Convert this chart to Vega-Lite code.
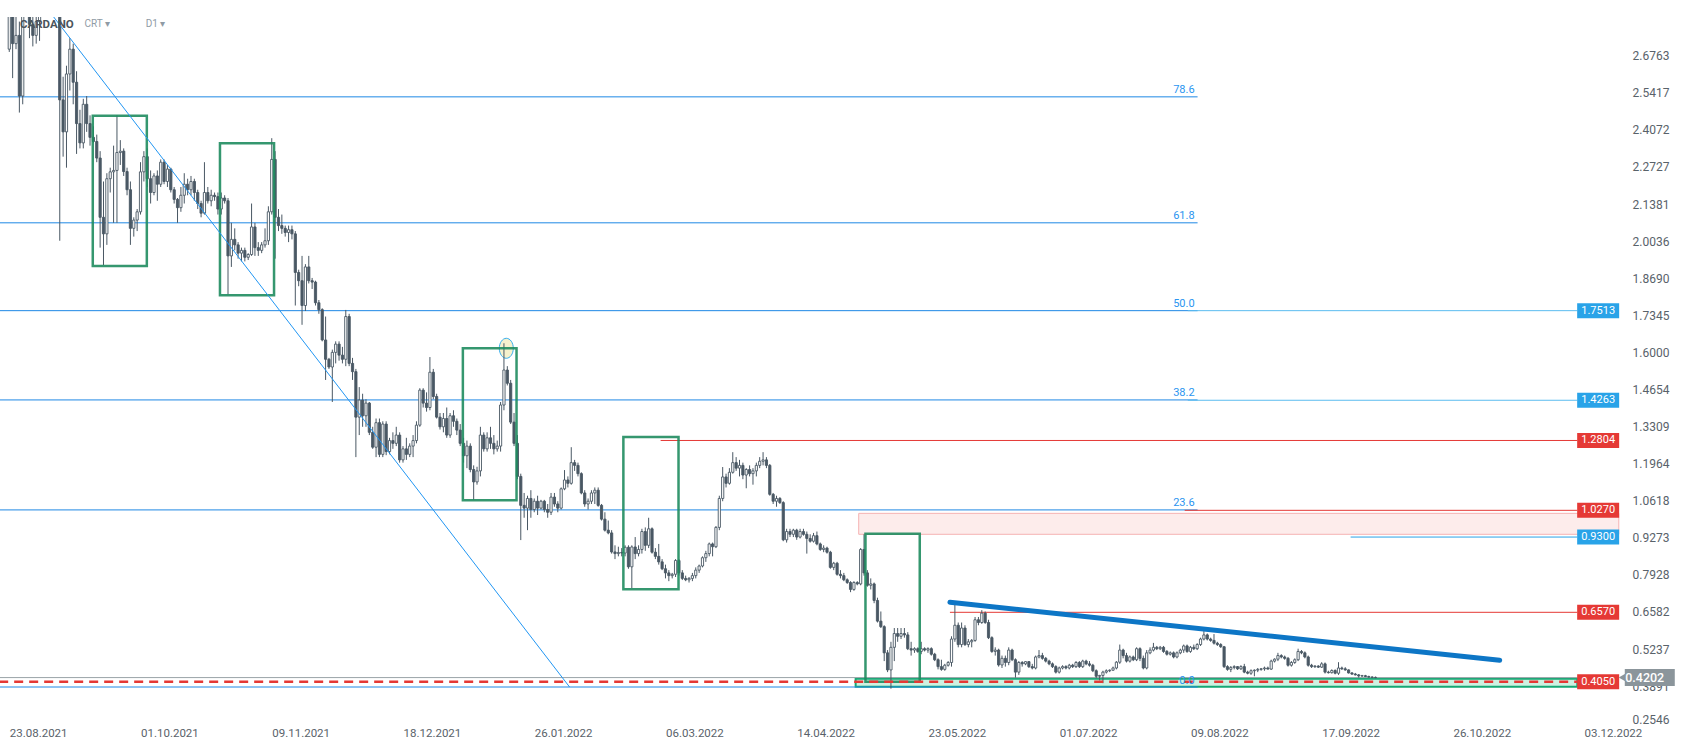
{
"$schema":"https://vega.github.io/schema/vega-lite/v6.json",
"width":1625,"height":707,
"autosize":{"type":"none"},
"padding":{"left":0,"top":17,"right":66,"bottom":25},
"background":"#ffffff",
"config":{"view":{"stroke":null},"font":"Roboto","axis":{"grid":false,"ticks":false,"domain":false,"labelOverlap":false}},
"title":{"text":"CARDANO","anchor":"start","frame":"group","orient":"top","offset":-22,"dx":20,"baseline":"alphabetic","font":"Roboto","fontSize":11.5,"fontWeight":"bold","color":"#4a545b"},
"datasets":{
"pink":[{"t":"2022-05-02T10:00:00Z","t2":"2022-12-14T07:00:00Z","v":0.940,"v2":1.016}],
"band":[{"t":"2022-05-01T12:15:00Z","t2":"2022-12-01T23:00:00Z","v":0.3872,"v2":0.4162}],
"hlines":[
{"t":"2021-08-20T00:00:00Z","t2":"2022-08-11T03:00:00Z","v":2.527,"kind":"fib"},
{"t":"2021-08-20T00:00:00Z","t2":"2022-08-11T03:00:00Z","v":2.070,"kind":"fib"},
{"t":"2021-08-20T00:00:00Z","t2":"2022-08-11T03:00:00Z","v":1.7513,"kind":"fib"},
{"t":"2021-08-20T00:00:00Z","t2":"2022-08-11T03:00:00Z","v":1.4275,"kind":"fib"},
{"t":"2021-08-20T00:00:00Z","t2":"2022-08-11T03:00:00Z","v":1.0285,"kind":"fib"},
{"t":"2021-08-20T00:00:00Z","t2":"2022-08-11T03:00:00Z","v":0.386,"kind":"fib"},
{"t":"2022-08-08T05:00:00Z","t2":"2022-12-01T23:00:00Z","v":1.7513,"kind":"ext"},
{"t":"2022-08-08T05:00:00Z","t2":"2022-12-01T23:00:00Z","v":1.4263,"kind":"ext"},
{"t":"2022-03-04T13:30:00Z","t2":"2022-12-01T23:00:00Z","v":1.2804,"kind":"red"},
{"t":"2022-08-07T07:00:00Z","t2":"2022-12-01T23:00:00Z","v":1.027,"kind":"red"},
{"t":"2022-05-29T12:45:00Z","t2":"2022-12-01T23:00:00Z","v":0.657,"kind":"red"},
{"t":"2022-09-25T14:24:00Z","t2":"2022-12-01T23:00:00Z","v":0.93,"kind":"blue"},
{"t":"2021-08-20T00:00:00Z","t2":"2022-12-01T23:00:00Z","v":0.4202,"kind":"price"}],
"support":[{"t":"2021-08-20T00:00:00Z","t2":"2022-12-01T23:00:00Z","v":0.405}],
"boxes":[
{"t":"2021-09-16T19:30:00Z","t2":"2021-10-02T21:00:00Z","v":1.9134,"v2":2.4586},
{"t":"2021-10-24T14:40:00Z","t2":"2021-11-09T16:20:00Z","v":1.8071,"v2":2.3585},
{"t":"2022-01-04T19:00:00Z","t2":"2022-01-20T17:45:00Z","v":1.0634,"v2":1.6148},
{"t":"2022-02-21T11:45:00Z","t2":"2022-03-09T21:00:00Z","v":0.7405,"v2":1.2931},
{"t":"2022-05-04T10:20:00Z","t2":"2022-05-20T13:30:00Z","v":0.4053,"v2":0.9422}],
"diag":[{"t":"2021-09-01T08:40:00Z","v":2.8776},{"t":"2022-02-05T12:00:00Z","v":0.386}],
"trend":[{"t":"2022-05-29T12:45:00Z","v":0.6934},{"t":"2022-11-08T21:30:00Z","v":0.483}],
"peak":[{"t":"2022-01-17T16:50:00Z","v":1.6148}],
"fiblabels":[
{"t":"2022-08-10T05:45:00Z","v":2.527,"label":"78.6"},
{"t":"2022-08-10T05:45:00Z","v":2.070,"label":"61.8"},
{"t":"2022-08-10T05:45:00Z","v":1.7513,"label":"50.0"},
{"t":"2022-08-10T05:45:00Z","v":1.4275,"label":"38.2"},
{"t":"2022-08-10T05:45:00Z","v":1.0285,"label":"23.6"},
{"t":"2022-08-10T05:45:00Z","v":0.386,"label":"0.0"}],
"badges":[
{"t":"2022-12-08T03:50:00Z","v":1.7513,"kind":"blue"},
{"t":"2022-12-08T03:50:00Z","v":1.4263,"kind":"blue"},
{"t":"2022-12-08T03:50:00Z","v":1.2804,"kind":"red"},
{"t":"2022-12-08T03:50:00Z","v":1.027,"kind":"red"},
{"t":"2022-12-08T03:50:00Z","v":0.93,"kind":"blue"},
{"t":"2022-12-08T03:50:00Z","v":0.657,"kind":"red"},
{"t":"2022-12-08T03:50:00Z","v":0.405,"kind":"red"}],
"pricebox":[{"t":"2022-12-23T12:00:00Z","v":0.4202}],
"pricetip":[{"t":"2022-12-15T12:00:00Z","v":0.4202}],
"pricetext":[{"t":"2022-12-22T00:00:00Z","v":0.4202}],
"candles":[
{"t":"2021-08-23","o":2.70,"h":2.95,"l":2.69,"c":2.88},
{"t":"2021-08-24","o":2.88,"h":2.93,"l":2.595,"c":2.72},
{"t":"2021-08-25","o":2.72,"h":2.86,"l":2.70,"c":2.75},
{"t":"2021-08-26","o":2.75,"h":2.80,"l":2.47,"c":2.53},
{"t":"2021-08-27","o":2.53,"h":2.86,"l":2.50,"c":2.84},
{"t":"2021-08-28","o":2.84,"h":2.92,"l":2.82,"c":2.87},
{"t":"2021-08-29","o":2.87,"h":2.91,"l":2.74,"c":2.79},
{"t":"2021-08-30","o":2.79,"h":2.84,"l":2.71,"c":2.75},
{"t":"2021-08-31","o":2.75,"h":2.87,"l":2.72,"c":2.80},
{"t":"2021-09-01","o":2.80,"h":2.96,"l":2.73,"c":2.93},
{"t":"2021-09-02","o":2.93,"h":3.10,"l":2.86,"c":2.97},
{"t":"2021-09-03","o":2.97,"h":3.02,"l":2.83,"c":2.87},
{"t":"2021-09-04","o":2.87,"h":2.93,"l":2.82,"c":2.86},
{"t":"2021-09-05","o":2.86,"h":2.97,"l":2.83,"c":2.90},
{"t":"2021-09-06","o":2.90,"h":2.93,"l":2.83,"c":2.86},
{"t":"2021-09-07","o":2.86,"h":2.87,"l":2.005,"c":2.516},
{"t":"2021-09-08","o":2.516,"h":2.60,"l":2.31,"c":2.40},
{"t":"2021-09-09","o":2.40,"h":2.64,"l":2.27,"c":2.61},
{"t":"2021-09-10","o":2.61,"h":2.74,"l":2.55,"c":2.70},
{"t":"2021-09-11","o":2.70,"h":2.72,"l":2.50,"c":2.58},
{"t":"2021-09-12","o":2.58,"h":2.62,"l":2.32,"c":2.43},
{"t":"2021-09-13","o":2.43,"h":2.48,"l":2.34,"c":2.36},
{"t":"2021-09-14","o":2.36,"h":2.52,"l":2.34,"c":2.50},
{"t":"2021-09-15","o":2.50,"h":2.53,"l":2.40,"c":2.43},
{"t":"2021-09-16","o":2.43,"h":2.46,"l":2.35,"c":2.38},
{"t":"2021-09-17","o":2.38,"h":2.42,"l":2.36,"c":2.365},
{"t":"2021-09-18","o":2.365,"h":2.39,"l":2.29,"c":2.305},
{"t":"2021-09-19","o":2.305,"h":2.33,"l":1.98,"c":2.09},
{"t":"2021-09-20","o":2.09,"h":2.22,"l":1.917,"c":2.03},
{"t":"2021-09-21","o":2.03,"h":2.25,"l":1.99,"c":2.23},
{"t":"2021-09-22","o":2.23,"h":2.27,"l":2.18,"c":2.255},
{"t":"2021-09-23","o":2.255,"h":2.35,"l":2.07,"c":2.26},
{"t":"2021-09-24","o":2.26,"h":2.46,"l":2.07,"c":2.325},
{"t":"2021-09-25","o":2.325,"h":2.37,"l":2.28,"c":2.33},
{"t":"2021-09-26","o":2.33,"h":2.34,"l":2.24,"c":2.256},
{"t":"2021-09-27","o":2.256,"h":2.27,"l":2.17,"c":2.19},
{"t":"2021-09-28","o":2.19,"h":2.22,"l":1.99,"c":2.05},
{"t":"2021-09-29","o":2.05,"h":2.09,"l":2.02,"c":2.08},
{"t":"2021-09-30","o":2.08,"h":2.12,"l":2.04,"c":2.11},
{"t":"2021-10-01","o":2.11,"h":2.29,"l":2.10,"c":2.255},
{"t":"2021-10-02","o":2.255,"h":2.33,"l":2.22,"c":2.31},
{"t":"2021-10-03","o":2.31,"h":2.34,"l":2.20,"c":2.23},
{"t":"2021-10-04","o":2.23,"h":2.26,"l":2.14,"c":2.18},
{"t":"2021-10-05","o":2.18,"h":2.25,"l":2.17,"c":2.24},
{"t":"2021-10-06","o":2.24,"h":2.26,"l":2.15,"c":2.21},
{"t":"2021-10-07","o":2.21,"h":2.30,"l":2.20,"c":2.29},
{"t":"2021-10-08","o":2.29,"h":2.30,"l":2.21,"c":2.22},
{"t":"2021-10-09","o":2.22,"h":2.28,"l":2.20,"c":2.265},
{"t":"2021-10-10","o":2.265,"h":2.27,"l":2.18,"c":2.19},
{"t":"2021-10-11","o":2.19,"h":2.20,"l":2.14,"c":2.155},
{"t":"2021-10-12","o":2.155,"h":2.16,"l":2.07,"c":2.125},
{"t":"2021-10-13","o":2.125,"h":2.20,"l":2.11,"c":2.17},
{"t":"2021-10-14","o":2.17,"h":2.25,"l":2.14,"c":2.21},
{"t":"2021-10-15","o":2.21,"h":2.23,"l":2.17,"c":2.19},
{"t":"2021-10-16","o":2.19,"h":2.24,"l":2.17,"c":2.22},
{"t":"2021-10-17","o":2.22,"h":2.23,"l":2.15,"c":2.18},
{"t":"2021-10-18","o":2.18,"h":2.19,"l":2.12,"c":2.14},
{"t":"2021-10-19","o":2.14,"h":2.15,"l":2.09,"c":2.105},
{"t":"2021-10-20","o":2.105,"h":2.29,"l":2.10,"c":2.18},
{"t":"2021-10-21","o":2.18,"h":2.20,"l":2.14,"c":2.15},
{"t":"2021-10-22","o":2.15,"h":2.19,"l":2.13,"c":2.17},
{"t":"2021-10-23","o":2.17,"h":2.18,"l":2.15,"c":2.165},
{"t":"2021-10-24","o":2.165,"h":2.18,"l":2.10,"c":2.12},
{"t":"2021-10-25","o":2.12,"h":2.18,"l":2.10,"c":2.16},
{"t":"2021-10-26","o":2.16,"h":2.17,"l":2.14,"c":2.15},
{"t":"2021-10-27","o":2.15,"h":2.16,"l":1.81,"c":1.95},
{"t":"2021-10-28","o":1.95,"h":2.07,"l":1.91,"c":2.01},
{"t":"2021-10-29","o":2.01,"h":2.05,"l":1.97,"c":1.99},
{"t":"2021-10-30","o":1.99,"h":2.00,"l":1.94,"c":1.96},
{"t":"2021-10-31","o":1.96,"h":1.98,"l":1.93,"c":1.97},
{"t":"2021-11-01","o":1.97,"h":1.98,"l":1.93,"c":1.945},
{"t":"2021-11-02","o":1.945,"h":1.96,"l":1.935,"c":1.955},
{"t":"2021-11-03","o":1.955,"h":2.14,"l":1.95,"c":2.055},
{"t":"2021-11-04","o":2.055,"h":2.07,"l":1.95,"c":1.98},
{"t":"2021-11-05","o":1.98,"h":2.00,"l":1.95,"c":1.97},
{"t":"2021-11-06","o":1.97,"h":2.00,"l":1.96,"c":1.99},
{"t":"2021-11-07","o":1.99,"h":2.05,"l":1.98,"c":2.005},
{"t":"2021-11-08","o":2.005,"h":2.13,"l":1.99,"c":2.11},
{"t":"2021-11-09","o":2.11,"h":2.377,"l":2.10,"c":2.30},
{"t":"2021-11-10","o":2.30,"h":2.33,"l":1.94,"c":2.09},
{"t":"2021-11-11","o":2.09,"h":2.12,"l":2.04,"c":2.06},
{"t":"2021-11-12","o":2.06,"h":2.10,"l":2.03,"c":2.05},
{"t":"2021-11-13","o":2.05,"h":2.06,"l":2.02,"c":2.035},
{"t":"2021-11-14","o":2.035,"h":2.06,"l":2.00,"c":2.045},
{"t":"2021-11-15","o":2.045,"h":2.06,"l":2.01,"c":2.03},
{"t":"2021-11-16","o":2.03,"h":2.04,"l":1.77,"c":1.89},
{"t":"2021-11-17","o":1.89,"h":1.90,"l":1.84,"c":1.86},
{"t":"2021-11-18","o":1.86,"h":1.95,"l":1.70,"c":1.77},
{"t":"2021-11-19","o":1.77,"h":1.92,"l":1.75,"c":1.91},
{"t":"2021-11-20","o":1.91,"h":1.95,"l":1.85,"c":1.86},
{"t":"2021-11-21","o":1.86,"h":1.87,"l":1.83,"c":1.855},
{"t":"2021-11-22","o":1.855,"h":1.86,"l":1.77,"c":1.78},
{"t":"2021-11-23","o":1.78,"h":1.79,"l":1.74,"c":1.755},
{"t":"2021-11-24","o":1.755,"h":1.76,"l":1.64,"c":1.645},
{"t":"2021-11-25","o":1.645,"h":1.73,"l":1.50,"c":1.575},
{"t":"2021-11-26","o":1.575,"h":1.58,"l":1.54,"c":1.547},
{"t":"2021-11-27","o":1.547,"h":1.61,"l":1.42,"c":1.60},
{"t":"2021-11-28","o":1.60,"h":1.64,"l":1.56,"c":1.63},
{"t":"2021-11-29","o":1.63,"h":1.64,"l":1.57,"c":1.59},
{"t":"2021-11-30","o":1.59,"h":1.62,"l":1.56,"c":1.575},
{"t":"2021-12-01","o":1.575,"h":1.754,"l":1.55,"c":1.73},
{"t":"2021-12-02","o":1.73,"h":1.74,"l":1.55,"c":1.56},
{"t":"2021-12-03","o":1.56,"h":1.58,"l":1.50,"c":1.53},
{"t":"2021-12-04","o":1.53,"h":1.54,"l":1.22,"c":1.365},
{"t":"2021-12-05","o":1.365,"h":1.474,"l":1.30,"c":1.427},
{"t":"2021-12-06","o":1.427,"h":1.45,"l":1.33,"c":1.37},
{"t":"2021-12-07","o":1.37,"h":1.43,"l":1.33,"c":1.416},
{"t":"2021-12-08","o":1.416,"h":1.42,"l":1.30,"c":1.31},
{"t":"2021-12-09","o":1.31,"h":1.33,"l":1.25,"c":1.256},
{"t":"2021-12-10","o":1.256,"h":1.36,"l":1.22,"c":1.345},
{"t":"2021-12-11","o":1.345,"h":1.36,"l":1.22,"c":1.23},
{"t":"2021-12-12","o":1.23,"h":1.35,"l":1.22,"c":1.34},
{"t":"2021-12-13","o":1.34,"h":1.35,"l":1.227,"c":1.24},
{"t":"2021-12-14","o":1.24,"h":1.29,"l":1.23,"c":1.28},
{"t":"2021-12-15","o":1.28,"h":1.31,"l":1.25,"c":1.27},
{"t":"2021-12-16","o":1.27,"h":1.33,"l":1.26,"c":1.30},
{"t":"2021-12-17","o":1.30,"h":1.31,"l":1.20,"c":1.21},
{"t":"2021-12-18","o":1.21,"h":1.26,"l":1.20,"c":1.25},
{"t":"2021-12-19","o":1.25,"h":1.29,"l":1.21,"c":1.23},
{"t":"2021-12-20","o":1.23,"h":1.27,"l":1.22,"c":1.26},
{"t":"2021-12-21","o":1.26,"h":1.30,"l":1.22,"c":1.28},
{"t":"2021-12-22","o":1.28,"h":1.35,"l":1.27,"c":1.336},
{"t":"2021-12-23","o":1.336,"h":1.47,"l":1.33,"c":1.463},
{"t":"2021-12-24","o":1.463,"h":1.47,"l":1.40,"c":1.416},
{"t":"2021-12-25","o":1.416,"h":1.455,"l":1.385,"c":1.40},
{"t":"2021-12-26","o":1.40,"h":1.583,"l":1.39,"c":1.528},
{"t":"2021-12-27","o":1.528,"h":1.54,"l":1.43,"c":1.44},
{"t":"2021-12-28","o":1.44,"h":1.45,"l":1.36,"c":1.365},
{"t":"2021-12-29","o":1.365,"h":1.38,"l":1.32,"c":1.33},
{"t":"2021-12-30","o":1.33,"h":1.38,"l":1.31,"c":1.36},
{"t":"2021-12-31","o":1.36,"h":1.40,"l":1.29,"c":1.30},
{"t":"2022-01-01","o":1.30,"h":1.38,"l":1.29,"c":1.37},
{"t":"2022-01-02","o":1.37,"h":1.39,"l":1.33,"c":1.35},
{"t":"2022-01-03","o":1.35,"h":1.36,"l":1.30,"c":1.318},
{"t":"2022-01-04","o":1.318,"h":1.34,"l":1.26,"c":1.27},
{"t":"2022-01-05","o":1.27,"h":1.29,"l":1.20,"c":1.225},
{"t":"2022-01-06","o":1.225,"h":1.28,"l":1.18,"c":1.26},
{"t":"2022-01-07","o":1.26,"h":1.27,"l":1.165,"c":1.175},
{"t":"2022-01-08","o":1.175,"h":1.19,"l":1.065,"c":1.13},
{"t":"2022-01-09","o":1.13,"h":1.185,"l":1.12,"c":1.17},
{"t":"2022-01-10","o":1.17,"h":1.33,"l":1.15,"c":1.30},
{"t":"2022-01-11","o":1.30,"h":1.31,"l":1.24,"c":1.25},
{"t":"2022-01-12","o":1.25,"h":1.31,"l":1.24,"c":1.29},
{"t":"2022-01-13","o":1.29,"h":1.33,"l":1.25,"c":1.27},
{"t":"2022-01-14","o":1.27,"h":1.30,"l":1.23,"c":1.25},
{"t":"2022-01-15","o":1.25,"h":1.28,"l":1.24,"c":1.26},
{"t":"2022-01-16","o":1.26,"h":1.42,"l":1.24,"c":1.409},
{"t":"2022-01-17","o":1.409,"h":1.633,"l":1.39,"c":1.536},
{"t":"2022-01-18","o":1.536,"h":1.55,"l":1.48,"c":1.488},
{"t":"2022-01-19","o":1.488,"h":1.50,"l":1.34,"c":1.347},
{"t":"2022-01-20","o":1.347,"h":1.38,"l":1.26,"c":1.27},
{"t":"2022-01-21","o":1.27,"h":1.30,"l":1.14,"c":1.15},
{"t":"2022-01-22","o":1.15,"h":1.16,"l":0.919,"c":1.045},
{"t":"2022-01-23","o":1.045,"h":1.09,"l":1.00,"c":1.035},
{"t":"2022-01-24","o":1.035,"h":1.08,"l":0.955,"c":1.07},
{"t":"2022-01-25","o":1.07,"h":1.10,"l":1.00,"c":1.03},
{"t":"2022-01-26","o":1.03,"h":1.07,"l":1.02,"c":1.06},
{"t":"2022-01-27","o":1.06,"h":1.08,"l":1.01,"c":1.035},
{"t":"2022-01-28","o":1.035,"h":1.065,"l":1.03,"c":1.06},
{"t":"2022-01-29","o":1.06,"h":1.065,"l":1.02,"c":1.03},
{"t":"2022-01-30","o":1.03,"h":1.05,"l":1.00,"c":1.02},
{"t":"2022-01-31","o":1.02,"h":1.09,"l":1.01,"c":1.075},
{"t":"2022-02-01","o":1.075,"h":1.09,"l":1.04,"c":1.05},
{"t":"2022-02-02","o":1.05,"h":1.06,"l":1.02,"c":1.035},
{"t":"2022-02-03","o":1.035,"h":1.11,"l":1.03,"c":1.105},
{"t":"2022-02-04","o":1.105,"h":1.173,"l":1.10,"c":1.137},
{"t":"2022-02-05","o":1.137,"h":1.15,"l":1.11,"c":1.125},
{"t":"2022-02-06","o":1.125,"h":1.256,"l":1.12,"c":1.20},
{"t":"2022-02-07","o":1.20,"h":1.21,"l":1.17,"c":1.19},
{"t":"2022-02-08","o":1.19,"h":1.20,"l":1.15,"c":1.16},
{"t":"2022-02-09","o":1.16,"h":1.165,"l":1.085,"c":1.09},
{"t":"2022-02-10","o":1.09,"h":1.10,"l":1.04,"c":1.05},
{"t":"2022-02-11","o":1.05,"h":1.07,"l":1.03,"c":1.06},
{"t":"2022-02-12","o":1.06,"h":1.10,"l":1.05,"c":1.09},
{"t":"2022-02-13","o":1.09,"h":1.11,"l":1.05,"c":1.10},
{"t":"2022-02-14","o":1.10,"h":1.11,"l":1.04,"c":1.045},
{"t":"2022-02-15","o":1.045,"h":1.05,"l":0.99,"c":0.995},
{"t":"2022-02-16","o":0.995,"h":1.02,"l":0.95,"c":0.955},
{"t":"2022-02-17","o":0.955,"h":0.99,"l":0.94,"c":0.945},
{"t":"2022-02-18","o":0.945,"h":0.955,"l":0.87,"c":0.876},
{"t":"2022-02-19","o":0.876,"h":0.90,"l":0.85,"c":0.87},
{"t":"2022-02-20","o":0.87,"h":0.895,"l":0.86,"c":0.874},
{"t":"2022-02-21","o":0.874,"h":0.89,"l":0.86,"c":0.872},
{"t":"2022-02-22","o":0.872,"h":0.90,"l":0.86,"c":0.893},
{"t":"2022-02-23","o":0.893,"h":0.90,"l":0.815,"c":0.822},
{"t":"2022-02-24","o":0.822,"h":0.90,"l":0.745,"c":0.894},
{"t":"2022-02-25","o":0.894,"h":0.93,"l":0.85,"c":0.87},
{"t":"2022-02-26","o":0.87,"h":0.90,"l":0.86,"c":0.885},
{"t":"2022-02-27","o":0.885,"h":0.96,"l":0.87,"c":0.95},
{"t":"2022-02-28","o":0.95,"h":0.965,"l":0.88,"c":0.90},
{"t":"2022-03-01","o":0.90,"h":1.00,"l":0.89,"c":0.96},
{"t":"2022-03-02","o":0.96,"h":0.965,"l":0.87,"c":0.875},
{"t":"2022-03-03","o":0.875,"h":0.89,"l":0.85,"c":0.86},
{"t":"2022-03-04","o":0.86,"h":0.905,"l":0.83,"c":0.84},
{"t":"2022-03-05","o":0.84,"h":0.85,"l":0.81,"c":0.815},
{"t":"2022-03-06","o":0.815,"h":0.83,"l":0.78,"c":0.80},
{"t":"2022-03-07","o":0.80,"h":0.81,"l":0.77,"c":0.79},
{"t":"2022-03-08","o":0.79,"h":0.80,"l":0.78,"c":0.795},
{"t":"2022-03-09","o":0.795,"h":0.85,"l":0.785,"c":0.845},
{"t":"2022-03-10","o":0.845,"h":0.85,"l":0.79,"c":0.80},
{"t":"2022-03-11","o":0.80,"h":0.81,"l":0.774,"c":0.78},
{"t":"2022-03-12","o":0.78,"h":0.79,"l":0.77,"c":0.775},
{"t":"2022-03-13","o":0.775,"h":0.785,"l":0.765,"c":0.78},
{"t":"2022-03-14","o":0.78,"h":0.80,"l":0.77,"c":0.79},
{"t":"2022-03-15","o":0.79,"h":0.82,"l":0.78,"c":0.81},
{"t":"2022-03-16","o":0.81,"h":0.83,"l":0.80,"c":0.825},
{"t":"2022-03-17","o":0.825,"h":0.86,"l":0.82,"c":0.855},
{"t":"2022-03-18","o":0.855,"h":0.88,"l":0.84,"c":0.87},
{"t":"2022-03-19","o":0.87,"h":0.91,"l":0.86,"c":0.905},
{"t":"2022-03-20","o":0.905,"h":0.91,"l":0.86,"c":0.895},
{"t":"2022-03-21","o":0.895,"h":0.97,"l":0.89,"c":0.965},
{"t":"2022-03-22","o":0.965,"h":1.08,"l":0.955,"c":1.07},
{"t":"2022-03-23","o":1.07,"h":1.184,"l":1.06,"c":1.148},
{"t":"2022-03-24","o":1.148,"h":1.16,"l":1.11,"c":1.125},
{"t":"2022-03-25","o":1.125,"h":1.18,"l":1.12,"c":1.165},
{"t":"2022-03-26","o":1.165,"h":1.238,"l":1.16,"c":1.20},
{"t":"2022-03-27","o":1.20,"h":1.22,"l":1.17,"c":1.18},
{"t":"2022-03-28","o":1.18,"h":1.21,"l":1.15,"c":1.19},
{"t":"2022-03-29","o":1.19,"h":1.20,"l":1.14,"c":1.155},
{"t":"2022-03-30","o":1.155,"h":1.18,"l":1.107,"c":1.175},
{"t":"2022-03-31","o":1.175,"h":1.19,"l":1.15,"c":1.16},
{"t":"2022-04-01","o":1.16,"h":1.18,"l":1.12,"c":1.17},
{"t":"2022-04-02","o":1.17,"h":1.20,"l":1.15,"c":1.19},
{"t":"2022-04-03","o":1.19,"h":1.22,"l":1.18,"c":1.205},
{"t":"2022-04-04","o":1.205,"h":1.238,"l":1.19,"c":1.21},
{"t":"2022-04-05","o":1.21,"h":1.22,"l":1.18,"c":1.19},
{"t":"2022-04-06","o":1.19,"h":1.195,"l":1.08,"c":1.085},
{"t":"2022-04-07","o":1.085,"h":1.09,"l":1.05,"c":1.06},
{"t":"2022-04-08","o":1.06,"h":1.08,"l":1.04,"c":1.07},
{"t":"2022-04-09","o":1.07,"h":1.075,"l":1.05,"c":1.055},
{"t":"2022-04-10","o":1.055,"h":1.06,"l":0.915,"c":0.92},
{"t":"2022-04-11","o":0.92,"h":0.96,"l":0.91,"c":0.95},
{"t":"2022-04-12","o":0.95,"h":0.96,"l":0.93,"c":0.94},
{"t":"2022-04-13","o":0.94,"h":0.96,"l":0.93,"c":0.955},
{"t":"2022-04-14","o":0.955,"h":0.96,"l":0.92,"c":0.93},
{"t":"2022-04-15","o":0.93,"h":0.96,"l":0.925,"c":0.95},
{"t":"2022-04-16","o":0.95,"h":0.96,"l":0.935,"c":0.94},
{"t":"2022-04-17","o":0.94,"h":0.95,"l":0.87,"c":0.925},
{"t":"2022-04-18","o":0.925,"h":0.94,"l":0.91,"c":0.915},
{"t":"2022-04-19","o":0.915,"h":0.945,"l":0.91,"c":0.935},
{"t":"2022-04-20","o":0.935,"h":0.95,"l":0.90,"c":0.905},
{"t":"2022-04-21","o":0.905,"h":0.91,"l":0.88,"c":0.885},
{"t":"2022-04-22","o":0.885,"h":0.90,"l":0.875,"c":0.89},
{"t":"2022-04-23","o":0.89,"h":0.895,"l":0.87,"c":0.875},
{"t":"2022-04-24","o":0.875,"h":0.88,"l":0.815,"c":0.82},
{"t":"2022-04-25","o":0.82,"h":0.84,"l":0.81,"c":0.835},
{"t":"2022-04-26","o":0.835,"h":0.84,"l":0.79,"c":0.795},
{"t":"2022-04-27","o":0.795,"h":0.81,"l":0.78,"c":0.79},
{"t":"2022-04-28","o":0.79,"h":0.80,"l":0.77,"c":0.775},
{"t":"2022-04-29","o":0.775,"h":0.78,"l":0.76,"c":0.765},
{"t":"2022-04-30","o":0.765,"h":0.77,"l":0.73,"c":0.74},
{"t":"2022-05-01","o":0.74,"h":0.77,"l":0.735,"c":0.765},
{"t":"2022-05-02","o":0.765,"h":0.77,"l":0.755,"c":0.76},
{"t":"2022-05-03","o":0.76,"h":0.89,"l":0.755,"c":0.885},
{"t":"2022-05-04","o":0.885,"h":0.94,"l":0.79,"c":0.80},
{"t":"2022-05-05","o":0.80,"h":0.81,"l":0.75,"c":0.755},
{"t":"2022-05-06","o":0.755,"h":0.78,"l":0.74,"c":0.76},
{"t":"2022-05-07","o":0.76,"h":0.765,"l":0.69,"c":0.70},
{"t":"2022-05-08","o":0.70,"h":0.71,"l":0.62,"c":0.625},
{"t":"2022-05-09","o":0.625,"h":0.66,"l":0.60,"c":0.605},
{"t":"2022-05-10","o":0.605,"h":0.61,"l":0.48,"c":0.51},
{"t":"2022-05-11","o":0.51,"h":0.52,"l":0.44,"c":0.448},
{"t":"2022-05-12","o":0.448,"h":0.55,"l":0.38,"c":0.53},
{"t":"2022-05-13","o":0.53,"h":0.60,"l":0.48,"c":0.58},
{"t":"2022-05-14","o":0.58,"h":0.60,"l":0.55,"c":0.57},
{"t":"2022-05-15","o":0.57,"h":0.60,"l":0.56,"c":0.58},
{"t":"2022-05-16","o":0.58,"h":0.60,"l":0.565,"c":0.575},
{"t":"2022-05-17","o":0.575,"h":0.585,"l":0.52,"c":0.525},
{"t":"2022-05-18","o":0.525,"h":0.55,"l":0.50,"c":0.52},
{"t":"2022-05-19","o":0.52,"h":0.53,"l":0.51,"c":0.525},
{"t":"2022-05-20","o":0.525,"h":0.53,"l":0.51,"c":0.515},
{"t":"2022-05-21","o":0.515,"h":0.55,"l":0.505,"c":0.525},
{"t":"2022-05-22","o":0.525,"h":0.53,"l":0.515,"c":0.52},
{"t":"2022-05-23","o":0.52,"h":0.53,"l":0.51,"c":0.525},
{"t":"2022-05-24","o":0.525,"h":0.53,"l":0.50,"c":0.505},
{"t":"2022-05-25","o":0.505,"h":0.51,"l":0.48,"c":0.485},
{"t":"2022-05-26","o":0.485,"h":0.49,"l":0.45,"c":0.46},
{"t":"2022-05-27","o":0.46,"h":0.485,"l":0.445,"c":0.45},
{"t":"2022-05-28","o":0.45,"h":0.47,"l":0.445,"c":0.465},
{"t":"2022-05-29","o":0.465,"h":0.48,"l":0.46,"c":0.475},
{"t":"2022-05-30","o":0.475,"h":0.57,"l":0.46,"c":0.56},
{"t":"2022-05-31","o":0.56,"h":0.687,"l":0.55,"c":0.61},
{"t":"2022-06-01","o":0.61,"h":0.62,"l":0.53,"c":0.54},
{"t":"2022-06-02","o":0.54,"h":0.62,"l":0.53,"c":0.60},
{"t":"2022-06-03","o":0.60,"h":0.61,"l":0.535,"c":0.54},
{"t":"2022-06-04","o":0.54,"h":0.56,"l":0.53,"c":0.55},
{"t":"2022-06-05","o":0.55,"h":0.56,"l":0.53,"c":0.555},
{"t":"2022-06-06","o":0.555,"h":0.64,"l":0.55,"c":0.63},
{"t":"2022-06-07","o":0.63,"h":0.64,"l":0.61,"c":0.62},
{"t":"2022-06-08","o":0.62,"h":0.665,"l":0.615,"c":0.654},
{"t":"2022-06-09","o":0.654,"h":0.66,"l":0.615,"c":0.62},
{"t":"2022-06-10","o":0.62,"h":0.63,"l":0.56,"c":0.565},
{"t":"2022-06-11","o":0.565,"h":0.57,"l":0.51,"c":0.515},
{"t":"2022-06-12","o":0.515,"h":0.53,"l":0.50,"c":0.52},
{"t":"2022-06-13","o":0.52,"h":0.525,"l":0.46,"c":0.466},
{"t":"2022-06-14","o":0.466,"h":0.50,"l":0.455,"c":0.49},
{"t":"2022-06-15","o":0.49,"h":0.50,"l":0.46,"c":0.475},
{"t":"2022-06-16","o":0.475,"h":0.53,"l":0.465,"c":0.52},
{"t":"2022-06-17","o":0.52,"h":0.525,"l":0.48,"c":0.485},
{"t":"2022-06-18","o":0.485,"h":0.49,"l":0.42,"c":0.44},
{"t":"2022-06-19","o":0.44,"h":0.48,"l":0.43,"c":0.475},
{"t":"2022-06-20","o":0.475,"h":0.48,"l":0.46,"c":0.47},
{"t":"2022-06-21","o":0.47,"h":0.48,"l":0.465,"c":0.478},
{"t":"2022-06-22","o":0.478,"h":0.48,"l":0.455,"c":0.46},
{"t":"2022-06-23","o":0.46,"h":0.47,"l":0.45,"c":0.455},
{"t":"2022-06-24","o":0.455,"h":0.50,"l":0.45,"c":0.495},
{"t":"2022-06-25","o":0.495,"h":0.52,"l":0.49,"c":0.50},
{"t":"2022-06-26","o":0.50,"h":0.51,"l":0.485,"c":0.49},
{"t":"2022-06-27","o":0.49,"h":0.495,"l":0.475,"c":0.48},
{"t":"2022-06-28","o":0.48,"h":0.485,"l":0.465,"c":0.47},
{"t":"2022-06-29","o":0.47,"h":0.475,"l":0.455,"c":0.46},
{"t":"2022-06-30","o":0.46,"h":0.465,"l":0.435,"c":0.44},
{"t":"2022-07-01","o":0.44,"h":0.46,"l":0.435,"c":0.455},
{"t":"2022-07-02","o":0.455,"h":0.465,"l":0.45,"c":0.46},
{"t":"2022-07-03","o":0.46,"h":0.465,"l":0.45,"c":0.455},
{"t":"2022-07-04","o":0.455,"h":0.47,"l":0.45,"c":0.465},
{"t":"2022-07-05","o":0.465,"h":0.47,"l":0.455,"c":0.46},
{"t":"2022-07-06","o":0.46,"h":0.48,"l":0.455,"c":0.475},
{"t":"2022-07-07","o":0.475,"h":0.48,"l":0.455,"c":0.46},
{"t":"2022-07-08","o":0.46,"h":0.485,"l":0.455,"c":0.48},
{"t":"2022-07-09","o":0.48,"h":0.485,"l":0.465,"c":0.47},
{"t":"2022-07-10","o":0.47,"h":0.48,"l":0.46,"c":0.465},
{"t":"2022-07-11","o":0.465,"h":0.47,"l":0.44,"c":0.445},
{"t":"2022-07-12","o":0.445,"h":0.45,"l":0.418,"c":0.425},
{"t":"2022-07-13","o":0.425,"h":0.43,"l":0.41,"c":0.428},
{"t":"2022-07-14","o":0.428,"h":0.445,"l":0.40,"c":0.44},
{"t":"2022-07-15","o":0.44,"h":0.45,"l":0.435,"c":0.445},
{"t":"2022-07-16","o":0.445,"h":0.45,"l":0.44,"c":0.447},
{"t":"2022-07-17","o":0.447,"h":0.46,"l":0.445,"c":0.455},
{"t":"2022-07-18","o":0.455,"h":0.48,"l":0.45,"c":0.476},
{"t":"2022-07-19","o":0.476,"h":0.54,"l":0.47,"c":0.52},
{"t":"2022-07-20","o":0.52,"h":0.525,"l":0.49,"c":0.50},
{"t":"2022-07-21","o":0.50,"h":0.51,"l":0.475,"c":0.48},
{"t":"2022-07-22","o":0.48,"h":0.50,"l":0.475,"c":0.495},
{"t":"2022-07-23","o":0.495,"h":0.50,"l":0.48,"c":0.485},
{"t":"2022-07-24","o":0.485,"h":0.53,"l":0.48,"c":0.525},
{"t":"2022-07-25","o":0.525,"h":0.53,"l":0.48,"c":0.49},
{"t":"2022-07-26","o":0.49,"h":0.50,"l":0.45,"c":0.455},
{"t":"2022-07-27","o":0.455,"h":0.52,"l":0.45,"c":0.51},
{"t":"2022-07-28","o":0.51,"h":0.53,"l":0.505,"c":0.52},
{"t":"2022-07-29","o":0.52,"h":0.546,"l":0.515,"c":0.53},
{"t":"2022-07-30","o":0.53,"h":0.535,"l":0.52,"c":0.525},
{"t":"2022-07-31","o":0.525,"h":0.535,"l":0.52,"c":0.53},
{"t":"2022-08-01","o":0.53,"h":0.535,"l":0.51,"c":0.515},
{"t":"2022-08-02","o":0.515,"h":0.52,"l":0.50,"c":0.505},
{"t":"2022-08-03","o":0.505,"h":0.515,"l":0.50,"c":0.51},
{"t":"2022-08-04","o":0.51,"h":0.515,"l":0.49,"c":0.495},
{"t":"2022-08-05","o":0.495,"h":0.515,"l":0.49,"c":0.51},
{"t":"2022-08-06","o":0.51,"h":0.525,"l":0.505,"c":0.52},
{"t":"2022-08-07","o":0.52,"h":0.54,"l":0.51,"c":0.535},
{"t":"2022-08-08","o":0.535,"h":0.54,"l":0.51,"c":0.515},
{"t":"2022-08-09","o":0.515,"h":0.535,"l":0.51,"c":0.53},
{"t":"2022-08-10","o":0.53,"h":0.54,"l":0.52,"c":0.525},
{"t":"2022-08-11","o":0.525,"h":0.545,"l":0.52,"c":0.54},
{"t":"2022-08-12","o":0.54,"h":0.565,"l":0.535,"c":0.56},
{"t":"2022-08-13","o":0.56,"h":0.589,"l":0.555,"c":0.575},
{"t":"2022-08-14","o":0.575,"h":0.58,"l":0.555,"c":0.56},
{"t":"2022-08-15","o":0.56,"h":0.565,"l":0.55,"c":0.555},
{"t":"2022-08-16","o":0.555,"h":0.578,"l":0.54,"c":0.545},
{"t":"2022-08-17","o":0.545,"h":0.55,"l":0.535,"c":0.54},
{"t":"2022-08-18","o":0.54,"h":0.545,"l":0.528,"c":0.532},
{"t":"2022-08-19","o":0.532,"h":0.535,"l":0.455,"c":0.46},
{"t":"2022-08-20","o":0.46,"h":0.465,"l":0.445,"c":0.45},
{"t":"2022-08-21","o":0.45,"h":0.462,"l":0.44,"c":0.457},
{"t":"2022-08-22","o":0.457,"h":0.465,"l":0.45,"c":0.46},
{"t":"2022-08-23","o":0.46,"h":0.462,"l":0.448,"c":0.452},
{"t":"2022-08-24","o":0.452,"h":0.465,"l":0.448,"c":0.46},
{"t":"2022-08-25","o":0.46,"h":0.47,"l":0.436,"c":0.44},
{"t":"2022-08-26","o":0.44,"h":0.445,"l":0.432,"c":0.436},
{"t":"2022-08-27","o":0.436,"h":0.45,"l":0.43,"c":0.445},
{"t":"2022-08-28","o":0.445,"h":0.45,"l":0.425,"c":0.447},
{"t":"2022-08-29","o":0.447,"h":0.455,"l":0.44,"c":0.45},
{"t":"2022-08-30","o":0.45,"h":0.455,"l":0.445,"c":0.452},
{"t":"2022-08-31","o":0.452,"h":0.46,"l":0.445,"c":0.455},
{"t":"2022-09-01","o":0.455,"h":0.46,"l":0.45,"c":0.451},
{"t":"2022-09-02","o":0.451,"h":0.485,"l":0.448,"c":0.48},
{"t":"2022-09-03","o":0.48,"h":0.49,"l":0.475,"c":0.487},
{"t":"2022-09-04","o":0.487,"h":0.51,"l":0.48,"c":0.50},
{"t":"2022-09-05","o":0.50,"h":0.505,"l":0.49,"c":0.495},
{"t":"2022-09-06","o":0.495,"h":0.50,"l":0.485,"c":0.49},
{"t":"2022-09-07","o":0.49,"h":0.495,"l":0.46,"c":0.465},
{"t":"2022-09-08","o":0.465,"h":0.48,"l":0.46,"c":0.475},
{"t":"2022-09-09","o":0.475,"h":0.49,"l":0.47,"c":0.485},
{"t":"2022-09-10","o":0.485,"h":0.525,"l":0.48,"c":0.515},
{"t":"2022-09-11","o":0.515,"h":0.52,"l":0.505,"c":0.51},
{"t":"2022-09-12","o":0.51,"h":0.515,"l":0.49,"c":0.495},
{"t":"2022-09-13","o":0.495,"h":0.50,"l":0.46,"c":0.465},
{"t":"2022-09-14","o":0.465,"h":0.47,"l":0.455,"c":0.46},
{"t":"2022-09-15","o":0.46,"h":0.465,"l":0.455,"c":0.462},
{"t":"2022-09-16","o":0.462,"h":0.465,"l":0.455,"c":0.458},
{"t":"2022-09-17","o":0.458,"h":0.476,"l":0.455,"c":0.47},
{"t":"2022-09-18","o":0.47,"h":0.475,"l":0.435,"c":0.44},
{"t":"2022-09-19","o":0.44,"h":0.445,"l":0.435,"c":0.438},
{"t":"2022-09-20","o":0.438,"h":0.45,"l":0.435,"c":0.446},
{"t":"2022-09-21","o":0.446,"h":0.45,"l":0.432,"c":0.436},
{"t":"2022-09-22","o":0.436,"h":0.476,"l":0.43,"c":0.455},
{"t":"2022-09-23","o":0.455,"h":0.46,"l":0.448,"c":0.452},
{"t":"2022-09-24","o":0.452,"h":0.458,"l":0.445,"c":0.448},
{"t":"2022-09-25","o":0.448,"h":0.45,"l":0.435,"c":0.437},
{"t":"2022-09-26","o":0.437,"h":0.44,"l":0.43,"c":0.433},
{"t":"2022-09-27","o":0.433,"h":0.437,"l":0.428,"c":0.43},
{"t":"2022-09-28","o":0.43,"h":0.433,"l":0.42,"c":0.426},
{"t":"2022-09-29","o":0.426,"h":0.43,"l":0.423,"c":0.427},
{"t":"2022-09-30","o":0.427,"h":0.43,"l":0.422,"c":0.424},
{"t":"2022-10-01","o":0.424,"h":0.427,"l":0.42,"c":0.422},
{"t":"2022-10-02","o":0.422,"h":0.425,"l":0.418,"c":0.421},
{"t":"2022-10-03","o":0.421,"h":0.424,"l":0.418,"c":0.4202}]
},
"layer":[
{"data":{"name":"pink"},
 "mark":{"type":"rect","fill":"#fdeceb","stroke":"#f5b3b3","strokeWidth":1},
 "encoding":{
  "x":{"field":"t","type":"temporal","title":"CRT \u25be\u2003\u2003\u2003\u2002D1 \u25be","scale":{"type":"utc","domain":[1629567072000,1671032160000]},
   "axis":{"values":[1629676800000,1633046400000,1636416000000,1639785600000,1643155200000,1646524800000,1649894400000,1653264000000,1656633600000,1660003200000,1663372800000,1666742400000,1670108400000],"tickCount":40,"format":"%d.%m.%Y","labelAlign":"left","labelPadding":3,"labelFont":"Roboto","labelFontSize":11.5,"labelColor":"#59626a","labelOverlap":false,"labelFlush":false,
    "titleX":84,"titleY":-697.5,"titleAlign":"left","titleBaseline":"alphabetic","titleFont":"Roboto","titleFontSize":10,"titleFontWeight":"normal","titleColor":"#8f9ba5"}},
  "x2":{"field":"t2"},
  "y":{"field":"v","type":"quantitative","title":null,"scale":{"domain":[0.2518,2.8167],"nice":false,"zero":false},
   "axis":{"orient":"right","values":[2.6763,2.5417,2.4072,2.2727,2.1381,2.0036,1.869,1.7345,1.6,1.4654,1.3309,1.1964,1.0618,0.9273,0.7928,0.6582,0.5237,0.3891,0.2546],"tickCount":40,"format":".4f","labelPadding":7,"labelFont":"Roboto","labelFontSize":12,"labelColor":"#59626a","labelOverlap":false,"labelBaseline":{"condition":{"test":"datum.value < 0.3","value":"alphabetic"},"value":"middle"}}},
  "y2":{"field":"v2"}}},
{"data":{"name":"band"},
 "mark":{"type":"rect","fill":"#cdf1e1","stroke":"#16a874","strokeWidth":2,"clip":true},
 "encoding":{"x":{"field":"t","type":"temporal"},"x2":{"field":"t2"},"y":{"field":"v","type":"quantitative","title":null},"y2":{"field":"v2"}}},
{"data":{"name":"hlines"},
 "mark":{"type":"rule","strokeWidth":1,"clip":true},
 "encoding":{"x":{"field":"t","type":"temporal"},"x2":{"field":"t2"},"y":{"field":"v","type":"quantitative","title":null},
  "color":{"field":"kind","type":"nominal","legend":null,"scale":{"domain":["fib","ext","red","blue","price"],"range":["#1e88e5","#5bbcf0","#e53935","#29a3e8","#9aa3a8"]}}}},
{"data":{"name":"peak"},
 "mark":{"type":"point","shape":"M-0.7,0A0.7,1,0,1,1,0.7,0A0.7,1,0,1,1,-0.7,0Z","size":400,"filled":true,"fill":"#f6f1cd","stroke":"#35aef0","strokeWidth":1,"opacity":1},
 "encoding":{"x":{"field":"t","type":"temporal"},"y":{"field":"v","type":"quantitative","title":null}}},
{"data":{"name":"candles"},
 "mark":{"type":"rule","color":"#4a5864","strokeWidth":1,"clip":true},
 "encoding":{"x":{"field":"t","type":"temporal"},"y":{"field":"l","type":"quantitative","title":null},"y2":{"field":"h"}}},
{"data":{"name":"candles"},
 "mark":{"type":"bar","size":2.2,"stroke":"#4a5864","strokeWidth":0.9,"clip":true},
 "encoding":{"x":{"field":"t","type":"temporal"},"y":{"field":"o","type":"quantitative","title":null},"y2":{"field":"c"},
  "fill":{"condition":{"test":"datum.c < datum.o","value":"#4a5864"},"value":"#ffffff"}}},
{"data":{"name":"boxes"},
 "mark":{"type":"rect","fill":"#ffffff","fillOpacity":0,"stroke":"#1f8c5f","strokeWidth":2.5,"strokeOpacity":0.9,"clip":true},
 "encoding":{"x":{"field":"t","type":"temporal"},"x2":{"field":"t2"},"y":{"field":"v","type":"quantitative","title":null},"y2":{"field":"v2"}}},
{"data":{"name":"support"},
 "mark":{"type":"rule","color":"#e53935","strokeWidth":2.5,"strokeDash":[9,6],"clip":true},
 "encoding":{"x":{"field":"t","type":"temporal"},"x2":{"field":"t2"},"y":{"field":"v","type":"quantitative","title":null}}},
{"data":{"name":"diag"},
 "mark":{"type":"line","color":"#2196f3","strokeWidth":1,"clip":true},
 "encoding":{"x":{"field":"t","type":"temporal"},"y":{"field":"v","type":"quantitative","title":null}}},
{"data":{"name":"trend"},
 "mark":{"type":"line","color":"#0d76c6","strokeWidth":5,"strokeCap":"round","clip":true},
 "encoding":{"x":{"field":"t","type":"temporal"},"y":{"field":"v","type":"quantitative","title":null}}},
{"data":{"name":"fiblabels"},
 "mark":{"type":"text","align":"right","baseline":"alphabetic","dy":-3.5,"font":"Roboto","fontSize":11,"color":"#2b95f0"},
 "encoding":{"x":{"field":"t","type":"temporal"},"y":{"field":"v","type":"quantitative","title":null},"text":{"field":"label"}}},
{"data":{"name":"badges"},
 "mark":{"type":"tick","orient":"horizontal","size":42,"thickness":15,"opacity":1},
 "encoding":{"x":{"field":"t","type":"temporal"},"y":{"field":"v","type":"quantitative","title":null},
  "color":{"field":"kind","type":"nominal","legend":null,"scale":{"domain":["fib","ext","red","blue","price"],"range":["#1e88e5","#5bbcf0","#e53935","#0b9be3","#9aa3a8"]}}}},
{"data":{"name":"badges"},
 "mark":{"type":"text","color":"#ffffff","font":"Roboto","fontSize":11,"align":"center","baseline":"middle"},
 "encoding":{"x":{"field":"t","type":"temporal"},"y":{"field":"v","type":"quantitative","title":null},"text":{"field":"v","type":"quantitative","format":".4f"}}},
{"data":{"name":"pricebox"},
 "mark":{"type":"tick","orient":"horizontal","size":50,"thickness":17,"opacity":1,"color":"#8b959b"},
 "encoding":{"x":{"field":"t","type":"temporal"},"y":{"field":"v","type":"quantitative","title":null}}},
{"data":{"name":"pricetip"},
 "mark":{"type":"point","shape":"triangle-left","size":90,"filled":true,"opacity":1,"color":"#8b959b"},
 "encoding":{"x":{"field":"t","type":"temporal"},"y":{"field":"v","type":"quantitative","title":null}}},
{"data":{"name":"pricetext"},
 "mark":{"type":"text","color":"#ffffff","font":"Roboto","fontSize":12.5,"fontWeight":500,"align":"center","baseline":"middle"},
 "encoding":{"x":{"field":"t","type":"temporal"},"y":{"field":"v","type":"quantitative","title":null},"text":{"field":"v","type":"quantitative","format":".4f"}}}
]
}
